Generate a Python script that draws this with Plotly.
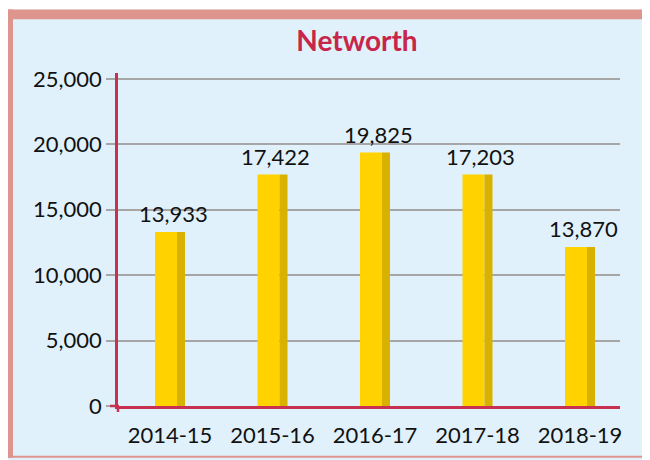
import plotly.graph_objects as go

# ---- data ----
years = ["2014-15", "2015-16", "2016-17", "2017-18", "2018-19"]
bar_heights = [13300, 17700, 19380, 17700, 12160]
value_labels = ["13,933", "17,422", "19,825", "17,203", "13,870"]
y_ticks = [0, 5000, 10000, 15000, 20000, 25000]

# page body has an 8px default margin; figure is sized to fit the window
OFF = 8
W, H = 650 - OFF, 460 - OFF
ML, MR, MT, MB = 118 - OFF, 30, 73 - OFF, 52
PW, PH = W - ML - MR, H - MT - MB

def px(x):  # window pixel -> paper coordinate
    return (x - OFF - ML) / PW

def py(y):
    return (H - MB - (y - OFF)) / PH

FONT = "Lato"
RED = "#C8304F"
YEL = "#FFD200"
YEL_D = "#D8B200"
BG = "#E0F1FB"
PINK = "#DE958E"

fig = go.Figure()
unit = 102.5
fig.add_trace(go.Bar(x=years, y=bar_heights, width=22 / unit, offset=-15 / unit,
                     marker=dict(color=YEL, line=dict(width=0)), hoverinfo="skip"))
fig.add_trace(go.Bar(x=years, y=bar_heights, width=8 / unit, offset=7 / unit,
                     marker=dict(color=YEL_D, line=dict(width=0)), hoverinfo="skip"))

for yr, h, lab in zip(years, bar_heights, value_labels):
    fig.add_annotation(x=yr, y=h, text=lab, showarrow=False, yshift=18,
                       yanchor="middle", xshift=3,
                       font=dict(family=FONT, size=22, color="#111111"))

shapes = [
    # frame
    dict(type="rect", xref="paper", yref="paper", x0=px(0), x1=px(650), y0=py(9), y1=py(0),
         fillcolor="white", line=dict(width=0), layer="below"),
    dict(type="rect", xref="paper", yref="paper", x0=px(0), x1=px(13), y0=py(460), y1=py(9),
         fillcolor=PINK, line=dict(width=0), layer="below"),
    dict(type="rect", xref="paper", yref="paper", x0=px(0), x1=px(650), y0=py(19), y1=py(9),
         fillcolor=PINK, line=dict(width=0), layer="below"),
    dict(type="rect", xref="paper", yref="paper", x0=px(0), x1=px(650), y0=py(460), y1=py(458),
         fillcolor=PINK, line=dict(width=0), layer="below"),
    # axis extensions
    dict(type="line", xref="paper", yref="paper", x0=px(110), x1=px(119), y0=0, y1=0,
         line=dict(color=RED, width=2.5)),
    dict(type="line", xref="paper", yref="paper", x0=0, x1=0, y0=py(414), y1=0,
         line=dict(color=RED, width=2.5)),
]

fig.update_layout(
    width=W, height=H,
    margin=dict(l=ML, r=MR, t=MT, b=MB),
    paper_bgcolor=BG, plot_bgcolor="rgba(0,0,0,0)",
    barmode="overlay", showlegend=False, shapes=shapes,
    title=dict(text="<b>Networth</b>", xref="container", yref="container",
               x=(357 - OFF) / W, y=1 - (41 - OFF) / H, xanchor="center", yanchor="middle",
               font=dict(family=FONT, size=28, color="#C8254A")),
    xaxis=dict(range=[(118 - 170) / unit, (620 - 170) / unit], showline=True,
               linecolor=RED, linewidth=2.5, showgrid=False, ticks="",
               ticklabelstandoff=8, tickfont=dict(family=FONT, size=22, color="#111111")),
    yaxis=dict(range=[0, 25450], tickvals=y_ticks, tickformat=",",
               showline=True, linecolor=RED, linewidth=2.5,
               showgrid=True, gridcolor="#A6A6A6", gridwidth=1.5, zeroline=False,
               ticks="outside", ticklen=9, tickcolor="#A6A6A6", tickwidth=1.5,
               tickfont=dict(family=FONT, size=22, color="#111111")),
)

fig.write_html("out.html")
